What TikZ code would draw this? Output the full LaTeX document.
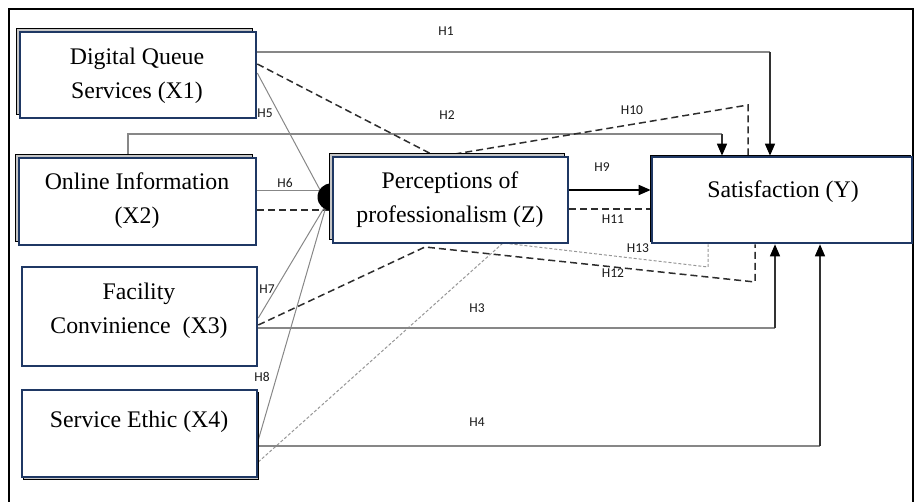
\documentclass[tikz,border=0pt]{standalone}
\usepackage{fontspec}
\setmainfont{Liberation Serif}
\newfontfamily\labfont{Carlito}
\usetikzlibrary{arrows.meta,calc,shadows,backgrounds}
\definecolor{navy}{RGB}{31,56,100}
\definecolor{lgray}{RGB}{135,135,135}
\definecolor{dgray}{RGB}{50,50,50}
\definecolor{dash}{RGB}{45,45,45}
\definecolor{ldash}{RGB}{150,150,150}
\definecolor{labc}{RGB}{25,25,25}
\begin{document}
\begin{tikzpicture}[x=1pt,y=-1pt,
  box/.style={draw=navy,line width=2.6pt,fill=white,inner sep=0pt},
  shad/.style={drop shadow={shadow xshift=-4pt,shadow yshift=4pt,opacity=1,fill=gray!45,draw=black,line width=0.8pt}},
  txt/.style={align=center,font=\fontsize{23.8}{34}\selectfont,inner sep=0pt},
  hlab/.style={font=\labfont\fontsize{13.5}{15}\selectfont,text=labc,inner sep=0pt},
  gline/.style={draw=lgray,line width=1.4pt},
  arrline/.style={draw=dgray,line width=1.4pt,-{Triangle[length=12pt,width=10pt,color=black]}},
  dline/.style={draw=dash,line width=1.5pt,dash pattern=on 7pt off 4pt},
  lline/.style={draw=ldash,line width=1pt,dash pattern=on 3pt off 2pt}]
\useasboundingbox (0,0) rectangle (914,502);
% outer frame
\draw[line width=2pt] (9,502) -- (9,9) -- (913,9) -- (913,502);
% hub
\node[circle,fill=black,minimum size=27pt,inner sep=0pt] (hub) at (331,197) {};
% boxes
\node[box,shad,minimum width=236pt,minimum height=86pt] (x1) at (138,75) {};
\node[box,shad,minimum width=237pt,minimum height=87pt] (x2) at (137.5,201.5) {};
\node[box,minimum width=235pt,minimum height=99pt] (x3) at (139.5,316.5) {};
\node[box,drop shadow={shadow xshift=1pt,shadow yshift=-2pt,opacity=1,fill=gray!45,draw=black,line width=0.8pt},minimum width=235pt,minimum height=87pt] (x4) at (139.5,433.5) {};
\node[box,shad,minimum width=235pt,minimum height=86pt] (z) at (450.5,200) {};
\node[box,drop shadow={shadow xshift=-2pt,shadow yshift=2pt,opacity=1,fill=gray!45,draw=black,line width=0.8pt},minimum width=260pt,minimum height=86pt] (y) at (782,200) {};
% texts
\node[txt] (t1) at (137,76) {Digital Queue\\Services (X1)};
\node[txt] (t2) at (137,200.5) {Online Information\\(X2)};
\node[txt] (t3) at (139,310.5) {Facility\\Convinience~~(X3)};
\node[txt] (t4) at (139,422) {Service Ethic (X4)};
\node[txt] (tz) at (450,200) {Perceptions of\\professionalism (Z)};
\node[txt] (ty) at (783,192) {Satisfaction (Y)};
% connectors
\coordinate (c1) at (770,52);
\coordinate (c2a) at (128,134);
\coordinate (c2b) at (722,134);
\coordinate (conv) at (327,203);
\coordinate (zt) at (437,157);
\coordinate (c10) at (748,105);
\coordinate (zb12) at (425,247);
\coordinate (c12) at (755,282);
\coordinate (zb13) at (503,243);
\coordinate (c13) at (708,267);
\coordinate (c3) at (775,328);
\coordinate (c4) at (820,446);
\begin{scope}[on background layer]
\draw[gline] (x1.east |- c1) -- (c1);
\draw[arrline] (c1) -- (c1 |- y.north);
\draw[gline] (c2a |- x2.north) -- (c2a) -- (c2b);
\draw[arrline] (c2b) -- (c2b |- y.north);
\draw[gline,line width=1pt] (x1.east |- 0,73) -- (conv);
\draw[gline,line width=1pt] (x2.east |- 0,191) -- (hub.center |- 0,191);
\draw[dline] (x2.east |- 0,210) -- (hub.center |- 0,210);
\draw[gline,line width=1pt] (x3.east |- 0,318) -- (conv);
\draw[gline,line width=1pt] (x4.east |- 0,440) -- (conv);
\draw[dline] (x1.east |- 0,64) -- (zt) -- (c10) -- (c10 |- y.north);
\draw[draw=black,line width=1.6pt,-{Triangle[length=12pt,width=10pt]}] (z.east |- 0,190) -- (y.west |- 0,190);
\draw[dline] (z.east |- 0,209) -- (y.west |- 0,209);
\draw[dline] (x3.east |- 0,325) -- (zb12) -- (c12) -- (c12 |- y.south);
\draw[lline] (x4.east |- 0,462) -- (zb13) -- (c13) -- (c13 |- y.south);
\draw[gline] (x3.east |- c3) -- (c3);
\draw[arrline] (c3) -- (c3 |- y.south);
\draw[gline] (x4.east |- c4) -- (c4);
\draw[arrline] (c4) -- (c4 |- y.south);
\end{scope}
% labels
\node[hlab] (h1) at (446,31) {H1};
\node[hlab] (h2) at (447,115) {H2};
\node[hlab] (h5) at (265,113) {H5};
\node[hlab] (h6) at (285,183) {H6};
\node[hlab] (h7) at (267,289) {H7};
\node[hlab] (h8) at (262,377) {H8};
\node[hlab] (h9) at (602,167) {H9};
\node[hlab] (h10) at (632,110) {H10};
\node[hlab] (h11) at (613,219) {H11};
\node[hlab] (h12) at (613,273) {H12};
\node[hlab] (h13) at (638,248) {H13};
\node[hlab] (h3) at (477,308) {H3};
\node[hlab] (h4) at (477,422) {H4};
\end{tikzpicture}
\end{document}
